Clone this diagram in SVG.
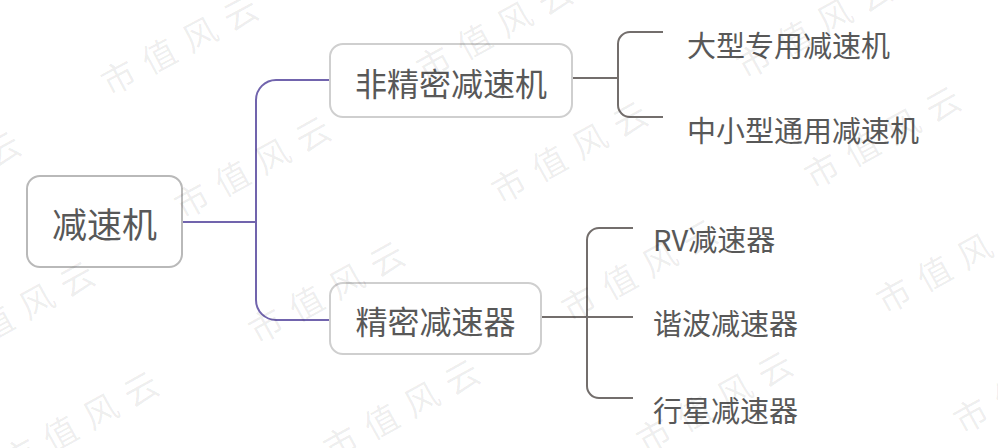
<svg xmlns="http://www.w3.org/2000/svg" width="998" height="448" viewBox="0 0 998 448">
  <style>
    .box { fill: #ffffff; stroke: #cfcfcf; stroke-width: 2; }
    .root { stroke: #b9b9b9; }
    .t { font-family: "Noto Sans CJK SC", "Noto Sans", sans-serif; fill: #585858; }
    .lvl0 { font-size: 35px; text-anchor: middle; }
    .lvl1 { font-size: 32px; text-anchor: middle; }
    .leaf { font-size: 29px; }
    .c-main { fill: none; stroke: #7164ad; stroke-width: 2; }
    .c-sub { fill: none; stroke: #736e6c; stroke-width: 2; }
    .wm { font-family: "Noto Sans CJK SC", sans-serif; font-size: 34px; letter-spacing: 12px; fill: #000000; fill-opacity: 0.07; text-anchor: middle; }
  </style>
  <rect width="998" height="448" fill="#ffffff"/>

  <g id="connectors">
    <path class="c-main" d="M182,222 H256"/>
    <path class="c-main" d="M330,80 H276 A20,20 0 0 0 256,100 V300 A20,20 0 0 0 276,320 H330"/>
    <path class="c-sub" d="M572,78 H618"/>
    <path class="c-sub" d="M663,32 H630 A12,12 0 0 0 618,44 V105 A12,12 0 0 0 630,117 H663"/>
    <path class="c-sub" d="M541,317 H633"/>
    <path class="c-sub" d="M633,228 H599 A12,12 0 0 0 587,240 V386 A12,12 0 0 0 599,398 H633"/>
  </g>

  <g id="node-root">
    <rect class="box root" x="27" y="176" width="155" height="91" rx="13"/>
    <text class="t lvl0" x="104.5" y="237.5">减速机</text>
  </g>
  <g id="node-nonprecision">
    <rect class="box" x="330" y="44" width="242" height="73" rx="13"/>
    <text class="t lvl1" x="451" y="95.5">非精密减速机</text>
  </g>
  <g id="node-precision">
    <rect class="box" x="330" y="283" width="211" height="71" rx="13"/>
    <text class="t lvl1" x="435.5" y="333.5">精密减速器</text>
  </g>
  <g id="node-large">
    <text class="t leaf" x="687" y="56.5">大型专用减速机</text>
  </g>
  <g id="node-general">
    <text class="t leaf" x="687" y="141.5">中小型通用减速机</text>
  </g>
  <g id="node-rv">
    <text class="t leaf" x="653" y="251">RV减速器</text>
  </g>
  <g id="node-harmonic">
    <text class="t leaf" x="653" y="335">谐波减速器</text>
  </g>
  <g id="node-planetary">
    <text class="t leaf" x="653" y="422">行星减速器</text>
  </g>

  <g id="watermark">
    <text class="wm" transform="translate(185,43) rotate(-28)" y="12">市值风云</text>
    <text class="wm" transform="translate(258,165) rotate(-29)" y="12">市值风云</text>
    <text class="wm" transform="translate(-52,180) rotate(-29)" y="12">市值风云</text>
    <text class="wm" transform="translate(500,28) rotate(-29)" y="12">市值风云</text>
    <text class="wm" transform="translate(820,25) rotate(-29)" y="12">市值风云</text>
    <text class="wm" transform="translate(575,150) rotate(-29)" y="12">市值风云</text>
    <text class="wm" transform="translate(888,135) rotate(-29)" y="12">市值风云</text>
    <text class="wm" transform="translate(22,310) rotate(-29)" y="12">市值风云</text>
    <text class="wm" transform="translate(332,290) rotate(-29)" y="12">市值风云</text>
    <text class="wm" transform="translate(86,420) rotate(-29)" y="12">市值风云</text>
    <text class="wm" transform="translate(407,408) rotate(-29)" y="12">市值风云</text>
    <text class="wm" transform="translate(645,268) rotate(-29)" y="12">市值风云</text>
    <text class="wm" transform="translate(960,260) rotate(-29)" y="12">市值风云</text>
    <text class="wm" transform="translate(720,400) rotate(-29)" y="12">市值风云</text>
    <text class="wm" transform="translate(1037,380) rotate(-29)" y="12">市值风云</text>
  </g>
</svg>
